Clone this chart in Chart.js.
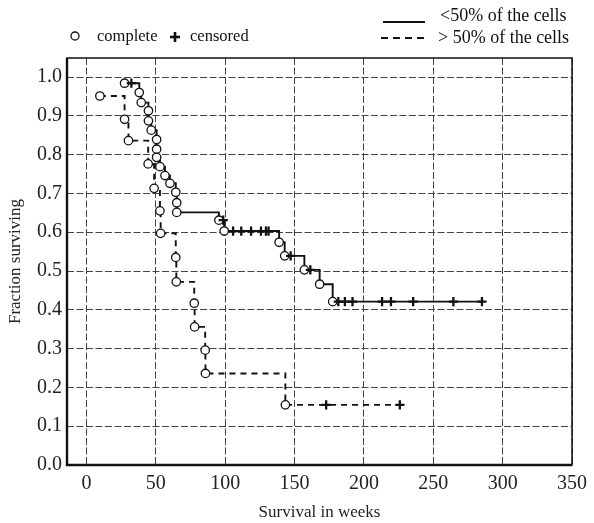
<!DOCTYPE html>
<html>
<head>
<meta charset="utf-8">
<script src="https://cdn.jsdelivr.net/npm/chart.js@4.4.1/dist/chart.umd.min.js"></script>
<style>
  html, body { margin: 0; padding: 0; background: #fff; }
  #wrap { position: relative; width: 594px; height: 523px; }
  #km-chart { position: absolute; left: 0; top: 0; }
  .lg { position: absolute; font-family: 'Liberation Serif', 'Times New Roman', serif; font-size: 16.5px; line-height: 20px; color: #111; white-space: nowrap; }
  .lg.big { font-size: 18px; }
  #lg-icons { position: absolute; left: 0; top: 0; }
</style>
</head>
<body>
<div id="wrap">
  <canvas id="km-chart" width="594" height="523"></canvas>
  <svg id="lg-icons" width="594" height="60">
    <circle cx="75" cy="36" r="4" fill="#fff" stroke="#111" stroke-width="1.3"/>
    <line x1="170" y1="37" x2="180" y2="37" stroke="#111" stroke-width="2.6"/>
    <line x1="175" y1="32" x2="175" y2="42" stroke="#111" stroke-width="2.6"/>
    <line x1="383" y1="22" x2="425" y2="22" stroke="#111" stroke-width="2"/>
    <line x1="381" y1="38" x2="428" y2="38" stroke="#111" stroke-width="2" stroke-dasharray="7 5"/>
  </svg>
  <div class="lg" style="left:97px; top:26px;">complete</div>
  <div class="lg" style="left:190px; top:26px;">censored</div>
  <div class="lg big" style="left:440px; top:5px;">&lt;50% of the cells</div>
  <div class="lg big" style="left:438px; top:27px;">&gt; 50% of the cells</div>
</div>
<script>
// <50% of the cells: event times (weeks) and survival after each event
var solidTimes = [27.5, 38.1, 39.5, 44.7, 44.7, 46.7, 50.6, 50.6, 50.6, 53, 56.6, 60.2, 64.4, 65.1, 65.1, 95.5, 99.3, 138.9, 142.9, 157.1, 168.1, 177.5];
var solidSurv = [0.984, 0.960, 0.934, 0.913, 0.887, 0.863, 0.839, 0.814, 0.793, 0.769, 0.746, 0.726, 0.703, 0.676, 0.651, 0.631, 0.603, 0.574, 0.539, 0.503, 0.466, 0.421];
var solidCensTimes = [32.4, 98.6, 105.7, 111.6, 118.7, 125.8, 129.4, 131.3, 147.2, 161.4, 181.6, 186.3, 191.8, 213.1, 219.5, 235.5, 264.5, 285.1];
var solidCensSurv = [0.984, 0.631, 0.603, 0.603, 0.603, 0.603, 0.603, 0.603, 0.539, 0.503, 0.421, 0.421, 0.421, 0.421, 0.421, 0.421, 0.421, 0.421];

// > 50% of the cells
var dashTimes = [9.7, 27.5, 30.3, 44.5, 48.8, 53, 53.5, 64.4, 64.8, 77.7, 78, 85.6, 85.8, 143.4];
var dashSurv = [0.951, 0.891, 0.836, 0.776, 0.713, 0.655, 0.597, 0.535, 0.472, 0.417, 0.356, 0.296, 0.236, 0.155];
var dashCensTimes = [172.8, 225.9];
var dashCensSurv = [0.155, 0.155];

var xTicks = [0, 50, 100, 150, 200, 250, 300, 350];
var yTicks = [0, 0.1, 0.2, 0.3, 0.4, 0.5, 0.6, 0.7, 0.8, 0.9, 1.0];

function pts(xs, ys) {
    return xs.map(function(x, i) { return {x: x, y: ys[i]}; });
}

// step lines run on to the last censored case
var solidLine = pts(solidTimes, solidSurv).concat(pts(solidCensTimes.slice(-1), solidCensSurv.slice(-1)));
var dashLine = pts(dashTimes, dashSurv).concat(pts(dashCensTimes.slice(-1), dashCensSurv.slice(-1)));

var serif = "'Liberation Serif', 'Times New Roman', serif";

var framePlugin = {
    id: 'frame',
    beforeDatasetsDraw: function(chart) {
        var a = chart.chartArea, c = chart.ctx;
        c.save();
        c.strokeStyle = '#111';
        c.lineWidth = 1.5;
        c.strokeRect(a.left, a.top, a.right - a.left, a.bottom - a.top);
        c.lineWidth = 2.4;
        c.beginPath();
        c.moveTo(a.left, a.top);
        c.lineTo(a.left, a.bottom);
        c.lineTo(a.right, a.bottom);
        c.stroke();
        c.restore();
    }
};

var ctx = document.getElementById('km-chart').getContext('2d');
var kmChart = new Chart(ctx, {
    type: 'scatter',
    data: {
        datasets: [{
            label: '<50% of the cells',
            data: solidLine,
            showLine: true,
            stepped: 'before',
            borderColor: '#111',
            borderWidth: 1.9,
            pointRadius: 0,
            order: 4
        }, {
            label: '> 50% of the cells',
            data: dashLine,
            showLine: true,
            stepped: 'before',
            borderColor: '#111',
            borderWidth: 1.9,
            borderDash: [6, 5],
            pointRadius: 0,
            order: 3
        }, {
            label: 'complete',
            data: pts(solidTimes, solidSurv).concat(pts(dashTimes, dashSurv)),
            pointStyle: 'circle',
            pointRadius: 4.2,
            backgroundColor: '#fff',
            borderColor: '#111',
            borderWidth: 1.3,
            order: 2
        }, {
            label: 'censored',
            data: pts(solidCensTimes, solidCensSurv).concat(pts(dashCensTimes, dashCensSurv)),
            pointStyle: 'cross',
            pointRadius: 4.6,
            borderColor: '#111',
            borderWidth: 2.3,
            order: 1
        }]
    },
    options: {
        responsive: false,
        animation: false,
        layout: { padding: { top: 58, right: 16, left: 0, bottom: 0 } },
        plugins: {
            legend: { display: false },
            tooltip: { enabled: false }
        },
        scales: {
            x: {
                type: 'linear',
                min: -14,
                max: 350,
                afterBuildTicks: function(scale) {
                    scale.ticks = xTicks.map(function(v) { return {value: v}; });
                },
                afterFit: function(scale) { scale.height = 58; },
                ticks: { font: { family: serif, size: 20 }, color: '#222', padding: 7, maxRotation: 0 },
                grid: { color: '#444', lineWidth: 1, drawTicks: false },
                border: { display: false, dash: [7, 2.5] },
                title: { display: true, text: 'Survival in weeks', font: { family: serif, size: 17 }, color: '#222', padding: { top: 0, bottom: 0 } }
            },
            y: {
                type: 'linear',
                min: 0,
                max: 1.049,
                afterBuildTicks: function(scale) {
                    scale.ticks = yTicks.map(function(v) { return {value: v}; });
                },
                afterFit: function(scale) { scale.width = 67; },
                ticks: {
                    font: { family: serif, size: 20 },
                    color: '#222',
                    padding: 5,
                    callback: function(value) { return value.toFixed(1); }
                },
                grid: { color: '#444', lineWidth: 1, drawTicks: false },
                border: { display: false, dash: [7, 2.5] },
                title: { display: true, text: 'Fraction surviving', font: { family: serif, size: 17 }, color: '#222', padding: { top: 5, bottom: 0 } }
            }
        }
    },
    plugins: [framePlugin]
});
</script>
</body>
</html>
